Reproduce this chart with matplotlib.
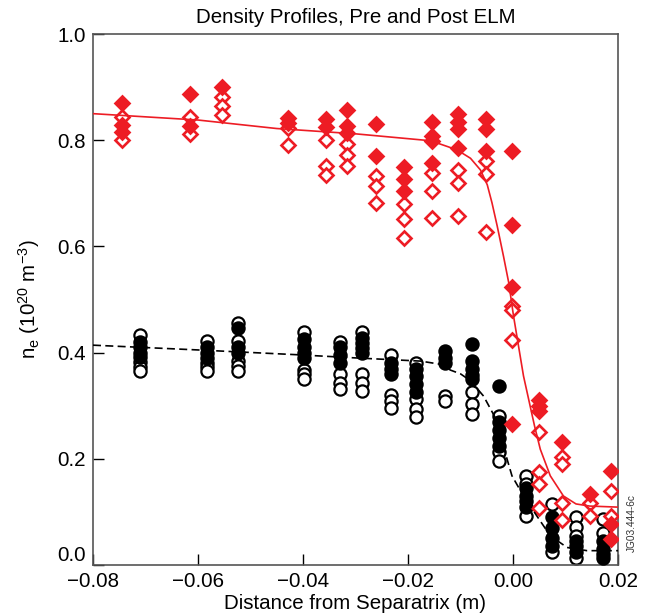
import matplotlib
matplotlib.use("Agg")
import matplotlib.pyplot as plt

plt.rcParams["font.family"] = ["Liberation Sans", "DejaVu Sans"]
plt.rcParams["mathtext.fontset"] = "custom"
plt.rcParams["mathtext.rm"] = "Liberation Sans"
plt.rcParams["mathtext.it"] = "Liberation Sans:italic"
plt.rcParams["mathtext.bf"] = "Liberation Sans:bold"

RED = "#ED1C24"

# ---- red diamonds: measurement columns (m) and densities (1e20 m^-3)
red_cols = [-0.0745, -0.0615, -0.0555, -0.0429, -0.0357, -0.0316, -0.0260, -0.0208,
            -0.0154, -0.0105, -0.0051, -0.0002, 0.0049, 0.0093, 0.0146, 0.0186]
red_pre = [[0.871, 0.829, 0.815], [0.887, 0.827], [0.900], [0.842, 0.833],
           [0.840, 0.825], [0.856, 0.827, 0.813], [0.830, 0.771], [0.749, 0.727, 0.705],
           [0.835, 0.807, 0.798, 0.758], [0.849, 0.835, 0.821, 0.785], [0.840, 0.821, 0.780],
           [0.780, 0.641, 0.523, 0.265], [0.311, 0.300, 0.290], [0.232], [0.133],
           [0.177, 0.077, 0.049]]
red_post = [[0.843, 0.800], [0.843, 0.812], [0.882, 0.865, 0.848], [0.823, 0.791],
            [0.801, 0.751, 0.735], [0.793, 0.773, 0.752], [0.732, 0.714, 0.682],
            [0.679, 0.652, 0.615], [0.738, 0.705, 0.654], [0.744, 0.719, 0.657],
            [0.760, 0.737, 0.627], [0.487, 0.481, 0.424], [0.251, 0.175, 0.152, 0.108],
            [0.203, 0.190, 0.117, 0.085], [0.117, 0.093], [0.139, 0.093]]

# ---- black circles
blk_cols = [-0.0710, -0.0583, -0.0524, -0.0399, -0.0330, -0.0288, -0.0233, -0.0184,
            -0.0129, -0.0078, -0.0027, 0.0024, 0.0074, 0.0120, 0.0171]
blk_pre = [[0.420, 0.410, 0.400, 0.392], [0.410, 0.400, 0.390], [0.447, 0.410, 0.400],
           [0.425, 0.410, 0.400, 0.390], [0.410, 0.395, 0.380], [0.428, 0.418, 0.408, 0.400],
           [0.381, 0.370, 0.359], [0.370, 0.355, 0.340, 0.325], [0.403, 0.390, 0.381],
           [0.417, 0.384, 0.370, 0.358, 0.350], [0.338, 0.270, 0.255, 0.240, 0.225],
           [0.145, 0.130, 0.120, 0.110], [0.090, 0.070, 0.050, 0.035],
           [0.045, 0.035, 0.025], [0.045, 0.030, 0.020, 0.014]]
blk_post = [[0.434, 0.382, 0.372, 0.365], [0.422, 0.380, 0.373, 0.366],
            [0.455, 0.422, 0.384, 0.375, 0.365], [0.439, 0.368, 0.359, 0.350],
            [0.420, 0.359, 0.343, 0.331], [0.439, 0.359, 0.343, 0.328],
            [0.395, 0.321, 0.309, 0.296], [0.381, 0.312, 0.293, 0.278], [0.318, 0.309],
            [0.325, 0.303, 0.284], [0.281, 0.212, 0.196], [0.167, 0.152, 0.093],
            [0.115, 0.024], [0.090, 0.071, 0.054, 0.014], [0.086, 0.061]]

# ---- fitted profiles
red_fit_x = [-0.08, -0.06, -0.045, -0.03, -0.0157, -0.0107, -0.0081, -0.0062, -0.0049,
             -0.0040, -0.0030, -0.0018, -0.0008, 0.0001, 0.0020, 0.0041, 0.0052, 0.0071,
             0.0096, 0.0120, 0.0146, 0.02]
red_fit_y = [0.850, 0.838, 0.822, 0.812, 0.799, 0.782, 0.766, 0.744, 0.716,
             0.682, 0.638, 0.581, 0.531, 0.469, 0.356, 0.262, 0.218, 0.168,
             0.130, 0.115, 0.111, 0.109]
blk_fit_x = [-0.08, -0.06, -0.0411, -0.03, -0.0176, -0.0138, -0.0119, -0.0100, -0.0081,
             -0.0056, -0.0027, -0.0015, -0.0002, 0.0020, 0.0045, 0.0071, 0.0103, 0.0141,
             0.02]
blk_fit_y = [0.414, 0.405, 0.396, 0.390, 0.384, 0.378, 0.367, 0.360, 0.347,
             0.318, 0.265, 0.212, 0.168, 0.130, 0.093, 0.055, 0.033, 0.027,
             0.027]

x_ticks = [-0.08, -0.06, -0.04, -0.02, 0.00, 0.02]
y_ticks = [0.0, 0.2, 0.4, 0.6, 0.8, 1.0]


def flatten(cols, vals):
    xs, ys = [], []
    for c, v in zip(cols, vals):
        xs.extend([c] * len(v))
        ys.extend(v)
    return xs, ys


fig = plt.figure(figsize=(6.53, 6.15), dpi=100)
ax = fig.add_axes([0.1424, 0.0813, 0.8040, 0.8634])

bx, by = flatten(blk_cols, blk_post)
ax.plot(bx, by, "o", ms=8.8, mfc="white", mec="black", mew=1.6, ls="none", zorder=2)
bx, by = flatten(blk_cols, blk_pre)
ax.plot(bx, by, "o", ms=8.8, mfc="black", mec="black", mew=1.6, ls="none", zorder=3)

rx, ry = flatten(red_cols, red_post)
ax.plot(rx, ry, "D", ms=7.6, mfc="white", mec=RED, mew=1.9, ls="none", zorder=4)
rx, ry = flatten(red_cols, red_pre)
ax.plot(rx, ry, "D", ms=7.6, mfc=RED, mec=RED, mew=1.9, ls="none", zorder=5)

ax.plot(red_fit_x, red_fit_y, "-", color=RED, lw=1.2, zorder=6)
ax.plot(blk_fit_x, blk_fit_y, "--", color="black", lw=1.2, dashes=(4.8, 2.6), zorder=6)

ax.set_xlim(-0.08, 0.02)
ax.set_ylim(0.0, 1.0)
ax.set_xticks(x_ticks)
ax.set_xticklabels([f"{v:.2f}".replace("-", "\u2212") for v in x_ticks])
ax.set_yticks(y_ticks)
ax.set_yticklabels([f"{v:.1f}" for v in y_ticks])
ax.tick_params(direction="in", length=8, width=1.0, color="black",
               labelsize=14.8, pad=5, top=False, right=False)
# the lowest y label sits on the axis line, clear of the first x label
ax.get_yticklabels()[0].set_verticalalignment("bottom")

for s in ax.spines.values():
    s.set_color("#555555")
    s.set_linewidth(1.2)

ax.set_title("Density Profiles, Pre and Post ELM", fontsize=14.8, pad=8)
ax.set_xlabel("Distance from Separatrix (m)", fontsize=14.8, labelpad=2)
ax.set_ylabel(r"n$_{\rm e}$ (10$^{20}$ m$^{-3}$)", fontsize=14.8, labelpad=11)

fig.text(0.967, 0.103, "JG03.444-6c", rotation=90, fontsize=7.3, color="#333333",
         ha="center", va="bottom")

fig.savefig("out.png", dpi=100)
